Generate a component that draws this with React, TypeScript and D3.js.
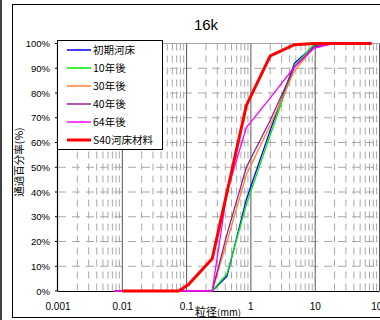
import React from "react";
import * as d3 from "d3";

// sieve sizes (mm)
const sieveA = [0.0075, 0.075, 0.25, 0.425, 0.85, 2, 4.75, 9.5, 19, 37.5, 75];
const sieveB = [0.01, 0.075, 0.106, 0.25, 0.85, 2, 4.75, 9.5, 19, 37.5, 75];

// percent passing
const initialBed = [0, 0, 0, 6, 37, 65, 92, 99, 100, 100, 100];
const after10 = [0, 0, 0, 7, 35, 63, 91, 99.5, 100, 100, 100];
const after30 = [0, 0, 0, 20, 47, 67, 89, 98.5, 100, 100, 100];
const after40 = [0, 0, 0, 23, 50, 69, 90.5, 98.5, 100, 100, 100];
const after64 = [0, 0, 0, 40, 66, 78, 90.5, 98, 100, 100, 100];
const s40Material = [0, 0, 2.5, 13, 75, 95, 99.5, 100, 100, 100, 100];

const seriesNames = ["初期河床", "10年後", "30年後", "40年後", "64年後", "S40河床材料"];
const seriesColors = ["#0000ff", "#00ee00", "#ff8030", "#902090", "#ff00ff", "#ff0000"];

const xTicks = [0.001, 0.01, 0.1, 1, 10, 100];
const xTickLabels = ["0.001", "0.01", "0.1", "1", "10", "100"];
const yTicks = d3.range(0, 101, 10);

const FONT = "'Liberation Sans', Arial, 'Noto Sans CJK JP', sans-serif";
const JP = "'Noto Sans CJK JP', 'Liberation Sans', sans-serif";

export default function App() {
  const width = 380;
  const height = 320;
  const left = 58;
  const right = 379.5;
  const top = 43.5;
  const bottom = 291;

  const x = d3.scaleLog().domain([0.001, 100]).range([left, right]);
  const y = d3.scaleLinear().domain([0, 100]).range([bottom, top]);

  const series = [
    { sizes: sieveA, values: initialBed },
    { sizes: sieveA, values: after10 },
    { sizes: sieveA, values: after30 },
    { sizes: sieveA, values: after40 },
    { sizes: sieveA, values: after64 },
    { sizes: sieveB, values: s40Material },
  ];

  const line = d3
    .line<[number, number]>()
    .x((d) => x(d[0]))
    .y((d) => y(d[1]));

  // minor grid positions 2..9 in each decade
  const minors: number[] = [];
  for (let e = -3; e < 2; e++) {
    for (let m = 2; m <= 9; m++) minors.push(m * Math.pow(10, e));
  }

  const legend = { x: 57, y: 40, w: 105, h: 109, row: 18 };

  return (
    <svg
      width={width}
      height={height}
      style={{ position: "absolute", left: 0, top: 0, background: "#fff" }}
    >
      <rect x={0} y={0} width={width} height={height} fill="#fff" />
      {/* outer frames */}
      <line x1={1} x2={1} y1={0} y2={height} stroke="#000" strokeWidth={1.5} />
      <rect x={12.5} y={4.5} width={400} height={313} fill="none" stroke="#000" strokeWidth={1} />

      <text x={206} y={30} fontFamily={FONT} fontSize={15} textAnchor="middle" fill="#000">
        16k
      </text>

      {/* horizontal grid */}
      {yTicks.slice(1).map((t) => (
        <line
          key={"h" + t}
          x1={left}
          x2={right}
          y1={y(t)}
          y2={y(t)}
          stroke="#a8a8a8"
          strokeWidth={1}
          strokeDasharray={t === 100 ? undefined : "8,6"}
        />
      ))}
      {/* minor vertical grid */}
      {minors.map((m, i) => (
        <line
          key={"m" + i}
          x1={x(m)}
          x2={x(m)}
          y1={top}
          y2={bottom}
          stroke="#a8a8a8"
          strokeWidth={1}
          strokeDasharray="7,5"
        />
      ))}
      {/* major vertical grid */}
      {xTicks.slice(1).map((t) => (
        <line key={"v" + t} x1={x(t)} x2={x(t)} y1={top} y2={bottom} stroke="#555" strokeWidth={1} />
      ))}

      {/* axes */}
      <line x1={left - 0.5} x2={left - 0.5} y1={top} y2={bottom} stroke="#000" strokeWidth={1.2} />
      <line x1={left} x2={right} y1={bottom + 0.5} y2={bottom + 0.5} stroke="#000" strokeWidth={1.2} />
      {yTicks.map((t) => (
        <g key={"yt" + t}>
          <line x1={left - 3} x2={left} y1={y(t)} y2={y(t)} stroke="#000" />
          <text
            x={50}
            y={y(t) + 3.5}
            fontFamily={FONT}
            fontSize={9.5}
            textAnchor="end"
            fill="#000"
          >
            {t + "%"}
          </text>
        </g>
      ))}
      {xTicks.map((t, i) => (
        <text
          key={"xt" + t}
          x={x(t)}
          y={310}
          fontFamily={FONT}
          fontSize={10}
          textAnchor="middle"
          fill="#000"
        >
          {xTickLabels[i]}
        </text>
      ))}

      {/* axis titles */}
      <text x={195} y={316} fontFamily={JP} fontSize={11} fill="#000">
        粒径<tspan fontSize={9.5}>(mm)</tspan>
      </text>
      <text
        transform="translate(23,162) rotate(-90)"
        fontFamily={JP}
        fontSize={10.5}
        textAnchor="middle"
        fill="#000"
      >
        通過百分率(%)
      </text>

      {/* series */}
      {series.map((s, i) => (
        <path
          key={"s" + i}
          d={line(s.sizes.map((v, j) => [v, s.values[j]] as [number, number])) || ""}
          fill="none"
          stroke={seriesColors[i]}
          strokeWidth={i === 5 ? 3 : 1.3}
          strokeLinejoin="miter"
        />
      ))}

      {/* legend */}
      <rect
        x={legend.x + 0.5}
        y={legend.y + 0.5}
        width={legend.w}
        height={legend.h}
        fill="#fff"
        stroke="#000"
        strokeWidth={1}
      />
      {seriesNames.map((name, i) => {
        const cy = legend.y + 10 + i * legend.row;
        return (
          <g key={"l" + i}>
            <line
              x1={67}
              x2={91}
              y1={cy}
              y2={cy}
              stroke={seriesColors[i]}
              strokeWidth={i === 5 ? 3 : 1.5}
            />
            <text x={93} y={cy + 4} fontFamily={JP} fontSize={10.5} fill="#000">
              {name}
            </text>
          </g>
        );
      })}
    </svg>
  );
}
